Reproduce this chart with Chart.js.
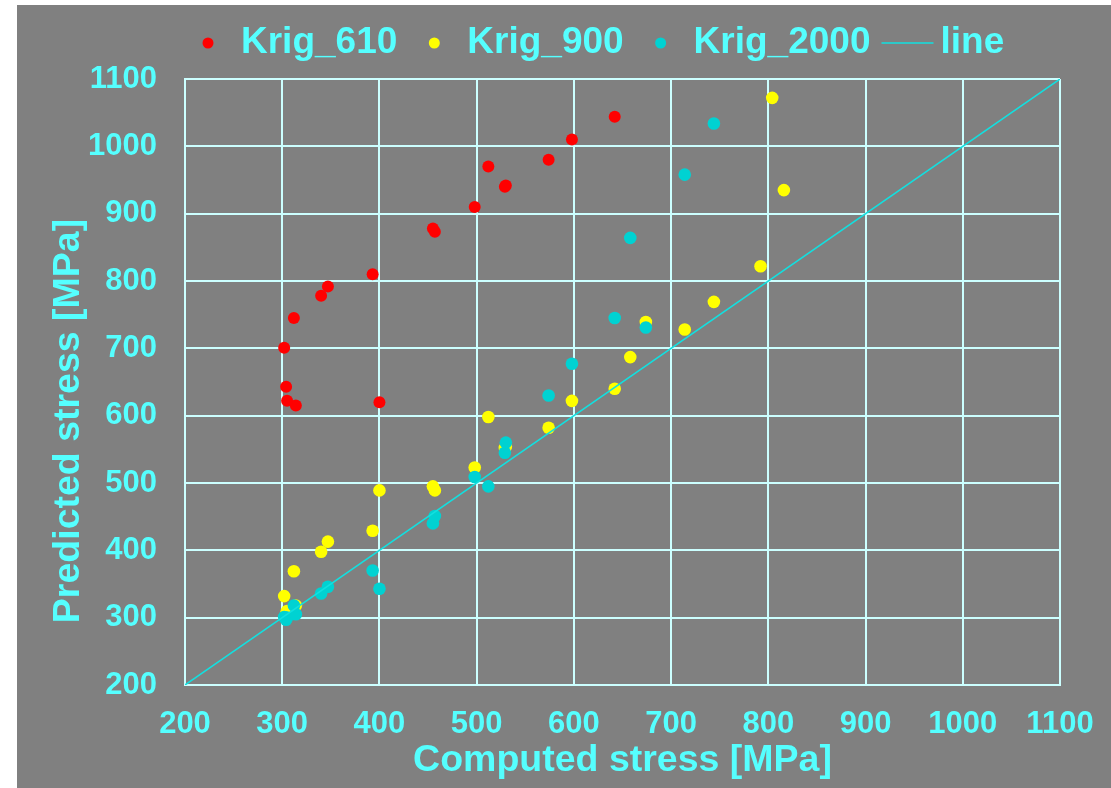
<!DOCTYPE html>
<html>
<head>
<meta charset="utf-8">
<script src="https://cdn.jsdelivr.net/npm/chart.js@4/dist/chart.umd.min.js"></script>
<style>
  html, body { margin: 0; padding: 0; background: #ffffff; }
  #wrap { position: absolute; left: 17px; top: 5px; width: 1094px; height: 783px; background: #808080; }
</style>
</head>
<body>
<div id="wrap"><canvas id="chart" width="1094" height="783"></canvas></div>
<script>
// computed stress [MPa], shared by all series
const computed = [302, 304, 305, 312, 314, 340, 347, 393, 400, 455, 457, 498, 512,
  529, 530, 574, 598, 642, 658, 674, 714, 744, 792, 804, 816]
// predicted stress [MPa] per model (only the points inside the plot are kept)
const krig610 = [701, 643, 622, 745, 615, 778, 792, 810, 620, 878, 873, 910, 970,
  940, 942, 980, 1010, 1044]
const krig900 = [332, 306, 310, 369, 318, 398, 413, 429, 489, 495, 489, 523, 598,
  552, 554, 582, 622, 640, 687, 739, 728, 769, 822, 1072, 935]
const krig2000 = [301, 297, 300, 318, 305, 336, 346, 370, 343, 440, 451, 509, 495,
  545, 560, 630, 677, 745, 864, 731, 958, 1034]
const lineEnds = [200, 1100]
const axisMin = 200
const axisMax = 1100
const axisStep = 100

const TEXT = "#55ffff"
const GRID = "#ccffff"
const FONT = "'Liberation Sans', Arial, sans-serif"

function pairs(ys) {
  return ys.map((y, i) => ({ x: computed[i], y: y }))
}

// legend drawn like the spreadsheet one: dot/line marker then label
const sheetLegend = {
  id: "sheetLegend",
  afterDraw(chart) {
    const ctx = chart.ctx
    ctx.save()
    ctx.font = "bold 37px " + FONT
    ctx.textBaseline = "middle"
    ctx.textAlign = "left"
    let cx = 191
    const y = 38
    chart.data.datasets.forEach((ds) => {
      if (ds.type === "line") {
        ctx.strokeStyle = ds.borderColor
        ctx.lineWidth = 1.5
        ctx.beginPath()
        ctx.moveTo(cx - 26, y)
        ctx.lineTo(cx + 26, y)
        ctx.stroke()
      } else {
        ctx.fillStyle = ds.backgroundColor
        ctx.beginPath()
        ctx.arc(cx, y, 5.5, 0, Math.PI * 2)
        ctx.fill()
      }
      ctx.fillStyle = TEXT
      ctx.fillText(ds.label, cx + 33, y)
      cx += 33 + ctx.measureText(ds.label).width + 37
    })
    ctx.restore()
  },
}

// y title sits lower than the axis centre in the original
const yTitle = {
  id: "yTitle",
  afterDraw(chart) {
    const ctx = chart.ctx
    ctx.save()
    ctx.translate(52, 416)
    ctx.rotate(-Math.PI / 2)
    ctx.font = "bold 37.5px " + FONT
    ctx.fillStyle = TEXT
    ctx.textAlign = "center"
    ctx.textBaseline = "middle"
    ctx.fillText("Predicted stress [MPa]", 0, 0)
    ctx.restore()
  },
}

const tickOpts = {
  color: TEXT,
  font: { family: FONT, size: 31, weight: "bold" },
  stepSize: axisStep,
  autoSkip: false,
  maxRotation: 0,
  callback: (v) => String(v),
}

const config = {
  type: "scatter",
  data: {
    datasets: [
      {
        label: "Krig_610",
        data: pairs(krig610),
        backgroundColor: "#ff0000",
        borderColor: "#ff0000",
        pointRadius: 6,
        borderWidth: 0,
        order: 3,
      },
      {
        label: "Krig_900",
        data: pairs(krig900),
        backgroundColor: "#ffff00",
        borderColor: "#ffff00",
        pointRadius: 6.3,
        borderWidth: 0,
        order: 2,
      },
      {
        label: "Krig_2000",
        data: pairs(krig2000),
        backgroundColor: "#00d2d2",
        borderColor: "#00d2d2",
        pointRadius: 6.3,
        borderWidth: 0,
        order: 1,
      },
      {
        type: "line",
        label: "line",
        data: lineEnds.map((v) => ({ x: v, y: v })),
        borderColor: "#11e0e0",
        borderWidth: 1.5,
        pointRadius: 0,
        fill: false,
        order: 0,
      },
    ],
  },
  options: {
    responsive: false,
    animation: false,
    layout: { padding: { top: 74, right: 51, left: 0, bottom: 0 } },
    plugins: {
      legend: { display: false },
      tooltip: { enabled: false },
    },
    scales: {
      x: {
        type: "linear",
        min: axisMin,
        max: axisMax,
        ticks: { ...tickOpts, padding: 21 },
        grid: { color: GRID, lineWidth: 2, drawTicks: false },
        border: { color: GRID, width: 2 },
        title: {
          display: true,
          text: "Computed stress [MPa]",
          color: TEXT,
          font: { family: FONT, size: 37.5, weight: "bold" },
          padding: { top: 0, bottom: 5 },
        },
        afterFit: (scale) => {
          scale.height = 103
          scale.paddingLeft = 0
          scale.paddingRight = 0
        },
      },
      y: {
        type: "linear",
        min: axisMin,
        max: axisMax,
        ticks: { ...tickOpts, padding: 28 },
        grid: { color: GRID, lineWidth: 2, drawTicks: false },
        border: { color: GRID, width: 2 },
        afterFit: (scale) => {
          scale.width = 168
          scale.paddingTop = 0
          scale.paddingBottom = 0
        },
      },
    },
  },
  plugins: [sheetLegend, yTitle],
}

var chart = new Chart(document.getElementById("chart"), config)
</script>
</body>
</html>
